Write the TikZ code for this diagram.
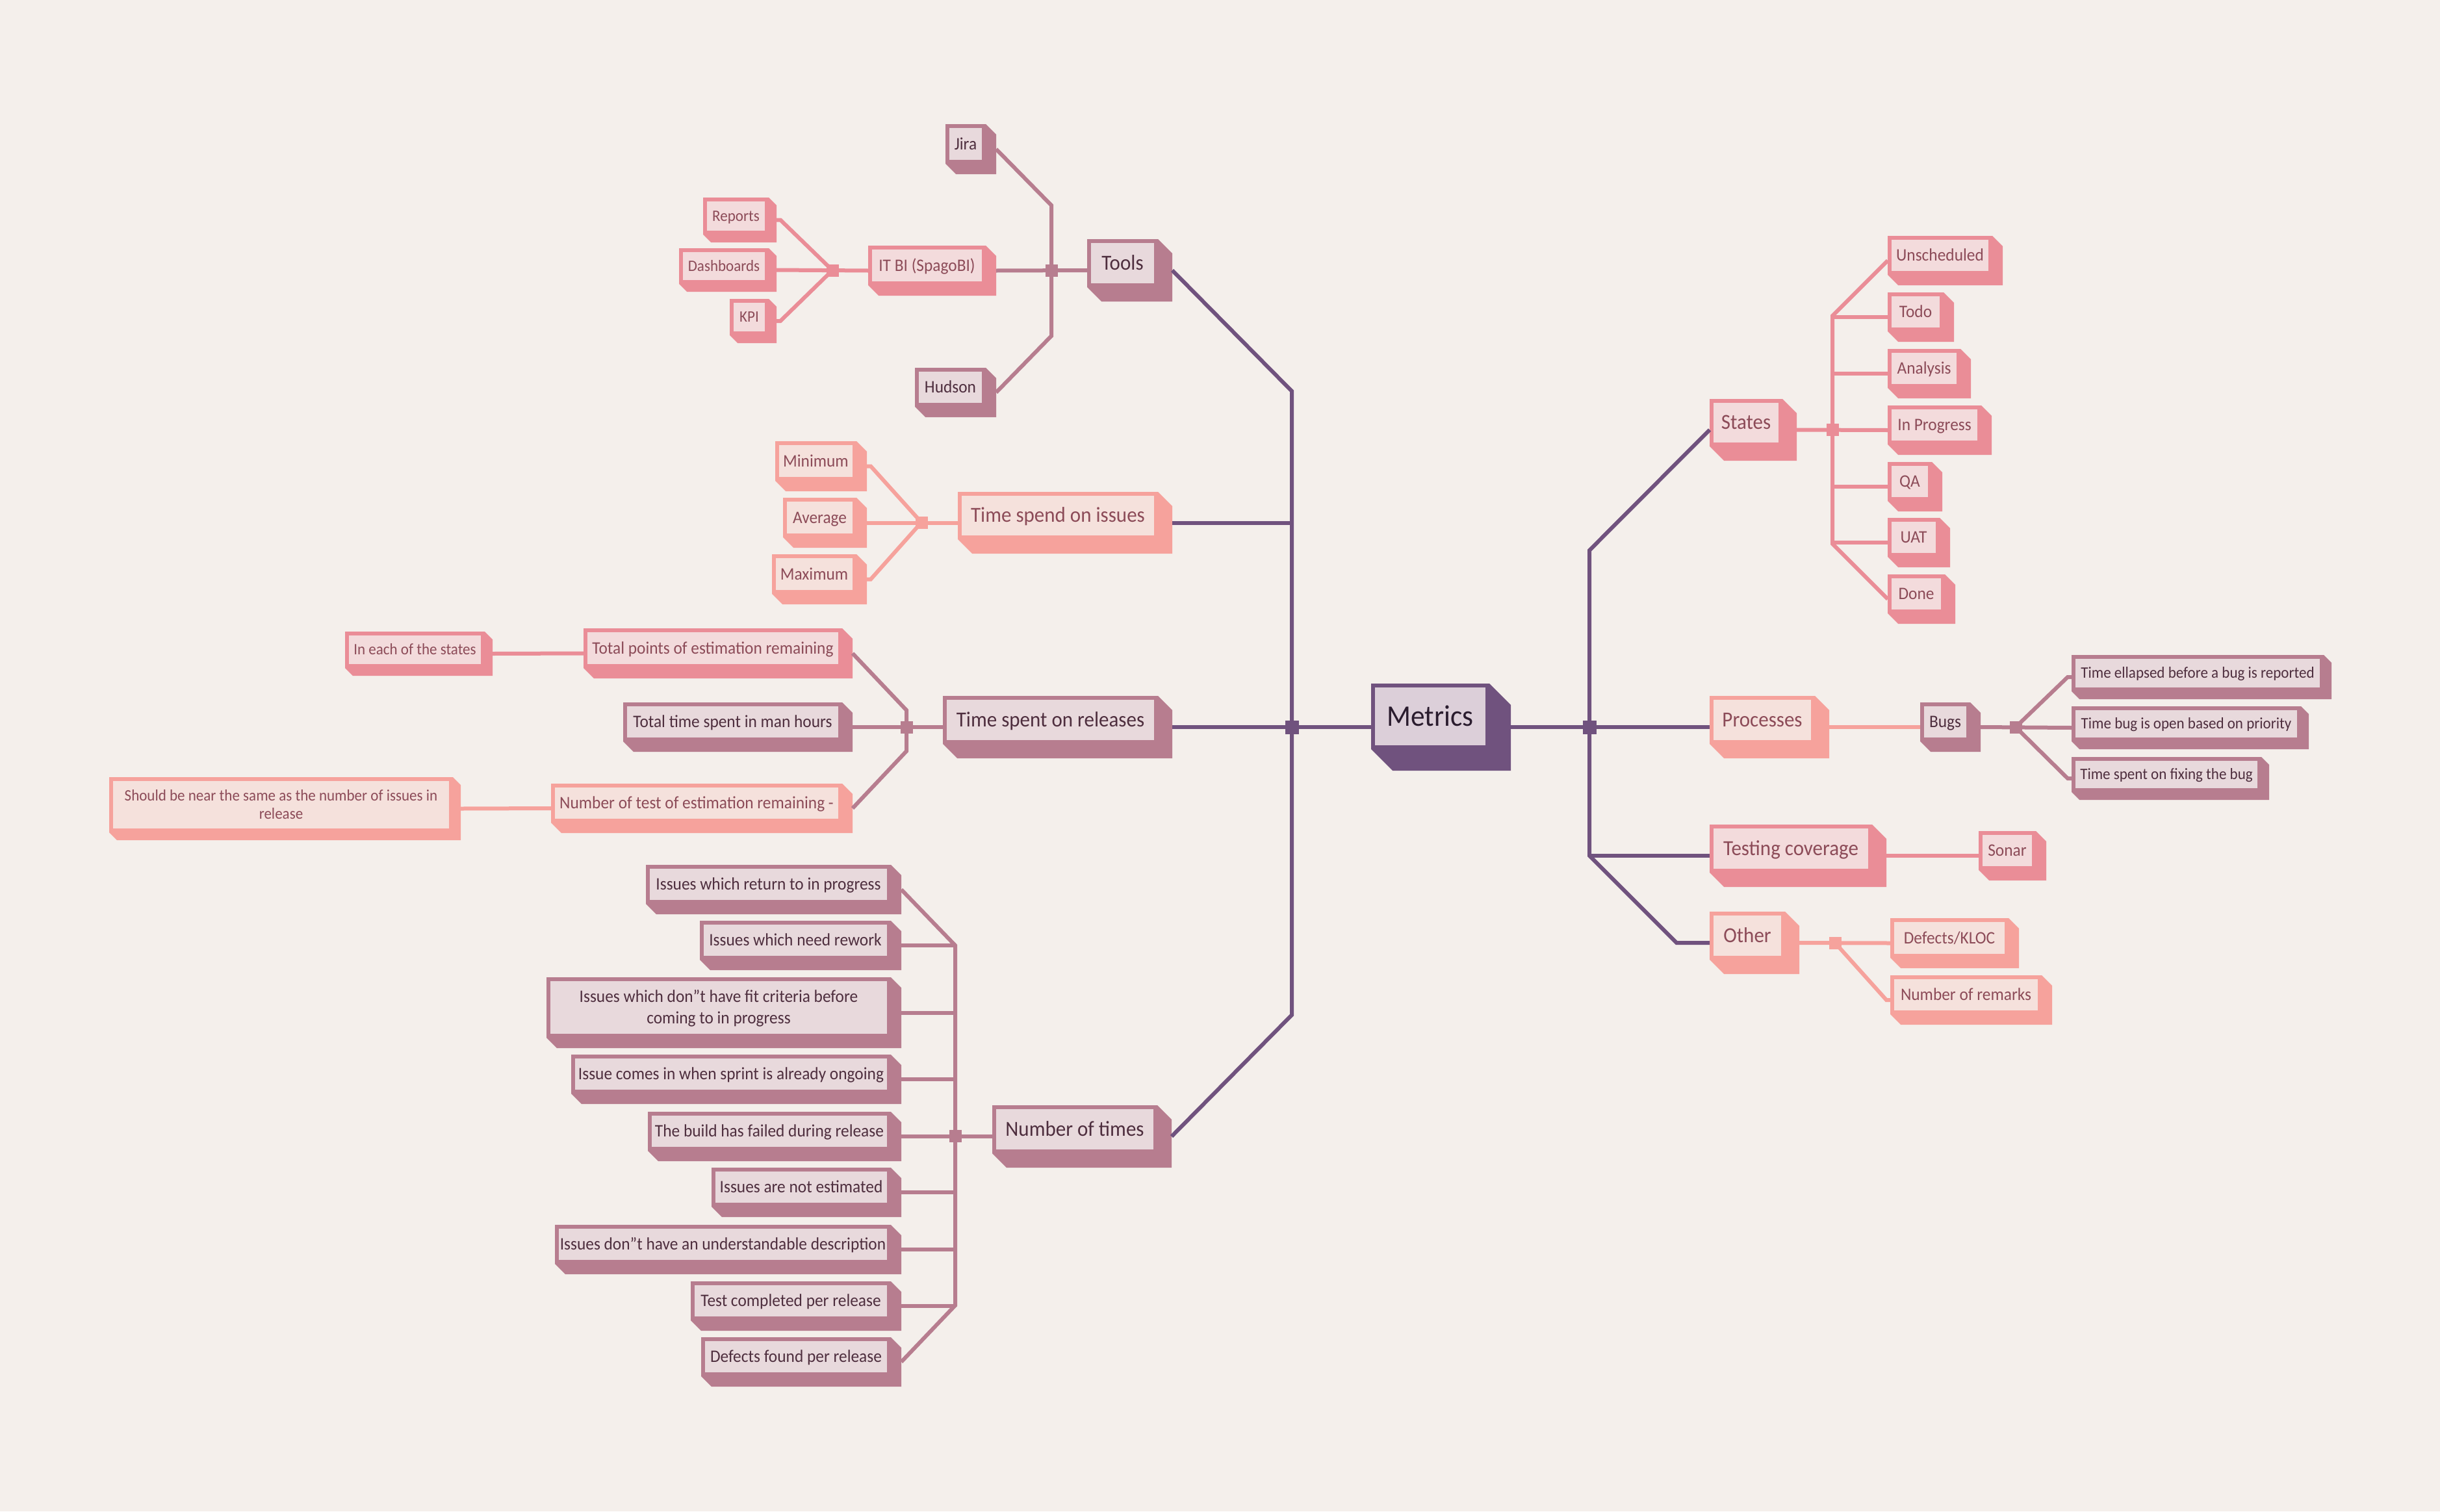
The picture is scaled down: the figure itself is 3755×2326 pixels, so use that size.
\documentclass[tikz,border=0pt]{standalone}
\usepackage{fontspec}
\setmainfont{Carlito}[FakeStretch=0.94]
\usetikzlibrary{calc}

\definecolor{bg}{HTML}{F4EFEB}
\definecolor{PD}{HTML}{70527E}
\definecolor{PL}{HTML}{DCCFD9}
\definecolor{PT}{HTML}{2A1C2E}
\definecolor{MD}{HTML}{B77D8F}
\definecolor{ML}{HTML}{E8D9DC}
\definecolor{MT}{HTML}{4E2E3E}
\definecolor{KD}{HTML}{EA8D97}
\definecolor{KL}{HTML}{F3DBDC}
\definecolor{KT}{HTML}{8C4B58}
\definecolor{SD}{HTML}{F6A29C}
\definecolor{SL}{HTML}{F5E1DC}
\definecolor{ST}{HTML}{8C4B58}

\tikzset{
  f0/.style={font=\fontsize{46}{55}\selectfont, text height=29pt, text depth=0pt, inner sep=0pt, align=center},
  f1/.style={font=\fontsize{33}{40}\selectfont, text height=20.8pt, text depth=0pt, inner sep=0pt, align=center},
  f2/.style={font=\fontsize{27}{33}\selectfont, text height=17pt, text depth=0pt, inner sep=0pt, align=center},
  f3/.style={font=\fontsize{24.5}{28}\selectfont, text height=15.4pt, text depth=0pt, inner sep=0pt, align=center},
  fullshape/.style={inner sep=0pt, outer sep=0pt, draw=none},
  conn/.style={line width=6pt, line join=miter},
  cP/.style={conn, draw=PD},
  cM/.style={conn, draw=MD},
  cK/.style={conn, draw=KD},
  cS/.style={conn, draw=SD},
  jn/.style={fill=#1, draw=none, inner sep=0pt, minimum size=19pt},
  jnbig/.style={fill=#1, draw=none, inner sep=0pt, minimum size=21pt},
}

% name, x0, y0, x1, y1, depth, colour set, font style, text
\newcommand\mmbox[9]{%
  \fill[#7D] (#2,#3) -- (#4,#3) -- ({#4+#6},{#3+#6}) -- ({#4+#6},{#5+#6}) -- ({#2+#6},{#5+#6}) -- (#2,#5) -- cycle;
  \fill[#7L] ({#2+6},{#3+6}) rectangle ({#4-6},{#5-6});
  \node[#8, text=#7T] (#1-t) at ({(#2+#4)/2},{(#3+#5)/2}) {#9};
  \node[fullshape, minimum width={#4+#6-#2}, minimum height={#5+#6-#3}] (#1) at ({(#2+#4+#6)/2},{(#3+#5+#6)/2}) {};
}

\begin{document}
\begin{tikzpicture}[x=1pt, y=-1pt]
\useasboundingbox (0,0) rectangle (3755,2326);
\fill[bg] (0,0) rectangle (3755,2326);

% ---------- boxes ----------
\mmbox{root}{2110}{1052}{2292}{1153}{33}{P}{f0}{Metrics}

\mmbox{tools}{1673}{368}{1782}{442}{22}{M}{f1}{Tools}
\mmbox{issues}{1474}{757}{1782}{830}{22}{S}{f1}{Time spend on issues}
\mmbox{releases}{1451}{1071}{1782}{1145}{22}{M}{f1}{Time spent on releases}
\mmbox{ntimes}{1527}{1701}{1781}{1775}{22}{M}{f1}{Number of times}
\mmbox{states}{2631}{614}{2743}{687}{22}{K}{f1}{States}
\mmbox{processes}{2631}{1071}{2793}{1145}{22}{S}{f1}{Processes}
\mmbox{testing}{2631}{1269}{2881}{1343}{22}{K}{f1}{Testing coverage}
\mmbox{other}{2631}{1403}{2747}{1477}{22}{S}{f1}{Other}

\mmbox{jira}{1455}{191}{1517}{252}{16}{M}{f2}{Jira}
\mmbox{itbi}{1336}{378}{1517}{439}{16}{K}{f2}{IT BI (SpagoBI)}
\mmbox{hudson}{1408}{566}{1517}{626}{16}{M}{f2}{Hudson}
\mmbox{minimum}{1193}{679}{1318}{740}{16}{S}{f2}{Minimum}
\mmbox{average}{1205}{766}{1318}{827}{16}{S}{f2}{Average}
\mmbox{maximum}{1188}{853}{1318}{914}{16}{S}{f2}{Maximum}
\mmbox{totpts}{898}{967}{1296}{1028}{16}{K}{f2}{Total points of estimation remaining}
\mmbox{tottime}{959}{1081}{1296}{1141}{16}{M}{f2}{Total time spent in man hours}
\mmbox{numtest}{848}{1206}{1296}{1266}{16}{S}{f2}{Number of test of estimation remaining -}

\mmbox{ret}{994}{1331}{1371}{1391}{16}{M}{f2}{Issues which return to in progress}
\mmbox{rework}{1077}{1417}{1371}{1477}{16}{M}{f2}{Issues which need rework}
\mmbox{fit}{841}{1504}{1371}{1597}{16}{M}{f2, text height=50pt}{Issues which don"t have fit criteria before\\coming to in progress}
\mmbox{sprint}{879}{1623}{1371}{1683}{16}{M}{f2}{Issue comes in when sprint is already ongoing}
\mmbox{build}{997}{1711}{1371}{1771}{16}{M}{f2}{The build has failed during release}
\mmbox{notest}{1095}{1797}{1371}{1857}{16}{M}{f2}{Issues are not estimated}
\mmbox{underst}{854}{1885}{1371}{1945}{16}{M}{f2}{Issues don"t have an understandable description}
\mmbox{testcomp}{1063}{1972}{1371}{2032}{16}{M}{f2}{Test completed per release}
\mmbox{defects}{1079}{2058}{1371}{2118}{16}{M}{f2}{Defects found per release}

\mmbox{unsched}{2905}{363}{3066}{423}{16}{K}{f2}{Unscheduled}
\mmbox{todo}{2905}{450}{2991}{510}{16}{K}{f2}{Todo}
\mmbox{analysis}{2905}{537}{3017}{597}{16}{K}{f2}{Analysis}
\mmbox{inprog}{2905}{624}{3049}{684}{16}{K}{f2}{In Progress}
\mmbox{qa}{2905}{711}{2973}{771}{16}{K}{f2}{QA}
\mmbox{uat}{2905}{797}{2985}{857}{16}{K}{f2}{UAT}
\mmbox{done}{2905}{884}{2993}{944}{16}{K}{f2}{Done}

\mmbox{bugs}{2955}{1081}{3032}{1141}{16}{M}{f2}{Bugs}
\mmbox{sonar}{3045}{1279}{3133}{1339}{16}{K}{f2}{Sonar}
\mmbox{defk}{2909}{1413}{3091}{1474}{16}{S}{f2}{Defects/KLOC}
\mmbox{nrem}{2909}{1501}{3142}{1561}{16}{S}{f2}{Number of remarks}

\mmbox{reports}{1082}{304}{1183}{361}{12}{K}{f3}{Reports}
\mmbox{dashb}{1045}{382}{1183}{437}{12}{K}{f3}{Dashboards}
\mmbox{kpi}{1123}{460}{1183}{516}{12}{K}{f3}{KPI}
\mmbox{ineach}{531}{972}{746}{1028}{12}{K}{f3}{In each of the states}
\mmbox{should}{168}{1196}{697}{1281}{12}{S}{f3, text height=43.4pt}{Should be near the same as the number of issues in\\release}
\mmbox{tel}{3188}{1008}{3576}{1064}{12}{M}{f3}{Time ellapsed before a bug is reported}
\mmbox{tbo}{3188}{1087}{3541}{1141}{12}{M}{f3}{Time bug is open based on priority}
\mmbox{tsf}{3188}{1165}{3480}{1219}{12}{M}{f3}{Time spent on fixing the bug}

% ---------- junction points ----------
\coordinate (jLc) at (1988,1119);
\coordinate (Ltop) at (1988,602);
\coordinate (Lbot) at (1988,1562);
\coordinate (jRc) at (2446,1119);
\coordinate (Rtop) at (2446,847);
\coordinate (Rbot) at (2446,1317);
\coordinate (Roth) at (2580,1451);
\coordinate (jTc) at (1618,416);
\coordinate (Ttop) at (1618,316);
\coordinate (Tbot) at (1618,517);
\coordinate (jIc) at (1281,416);
\coordinate (jSc) at (1418,804);
\coordinate (jRelc) at (1395,1119);
\coordinate (Reltop) at (1395,1093);
\coordinate (Relbot) at (1395,1156);
\coordinate (jNc) at (1470,1748);
\coordinate (Ntop) at (1470,1455);
\coordinate (Nbot) at (1470,2009);
\coordinate (jStc) at (2820,661);
\coordinate (Sttop) at (2820,486);
\coordinate (Stbot) at (2820,837);
\coordinate (jBc) at (3102,1119);
\coordinate (jOc) at (2824,1451);

% ---------- connectors ----------
% root, left
\draw[cP] (tools.east) -- (Ltop) -- (Lbot) -- (ntimes.east);
\draw[cP] (issues.east) -- (issues.east -| jLc);
\draw[cP] (releases.east) -- (root.west);
% root, right
\draw[cP] (states.west) -- (Rtop) -- (Rbot) -- (Roth) -- (other.west);
\draw[cP] (root.east) -- (processes.west);
\draw[cP] (Rbot) -- (testing.west);

% Tools
\draw[cM] (jira.east) -- (Ttop) -- (Tbot) -- (hudson.east);
\draw[cM] (itbi.east) -- (tools.west);
% IT BI
\draw[cK] (reports.east) -- ++(6,0) -- (jIc);
\draw[cK] (kpi.east) -- ++(6,0) -- (jIc);
\draw[cK] (dashb.east) -- (itbi.west);
% Time spend on issues
\draw[cS] (minimum.east) -- ++(6,0) -- (jSc);
\draw[cS] (maximum.east) -- ++(6,0) -- (jSc);
\draw[cS] (average.east) -- (issues.west);
% Time spent on releases
\draw[cM] (totpts.east) -- (Reltop) -- (Relbot) -- (numtest.east);
\draw[cM] (tottime.east) -- (releases.west);
\draw[cK] (ineach.east) -- (totpts.west);
\draw[cS] (should.east) -- (numtest.west);
% Number of times
\draw[cM] (ret.east) -- (Ntop) -- (Nbot) -- (defects.east);
\draw[cM] (build.east) -- (ntimes.west);
\draw[cM] (rework.east) -- (rework.east -| jNc);
\draw[cM] (fit.east) -- (fit.east -| jNc);
\draw[cM] (sprint.east) -- (sprint.east -| jNc);
\draw[cM] (notest.east) -- (notest.east -| jNc);
\draw[cM] (underst.east) -- (underst.east -| jNc);
\draw[cM] (testcomp.east) -- (testcomp.east -| jNc);
% States
\draw[cK] (unsched.west) -- (Sttop) -- (Stbot) -- (done.west);
\draw[cK] (states.east) -- (inprog.west);
\draw[cK] (todo.west) -- (todo.west -| jStc);
\draw[cK] (analysis.west) -- (analysis.west -| jStc);
\draw[cK] (qa.west) -- (qa.west -| jStc);
\draw[cK] (uat.west) -- (uat.west -| jStc);
% Processes / Bugs
\draw[cS] (processes.east) -- (bugs.west);
\draw[cM] (bugs.east) -- (tbo.west);
\draw[cM] (tel.west) -- ++(-6,0) -- (jBc);
\draw[cM] (tsf.west) -- ++(-6,0) -- (jBc);
% Testing coverage
\draw[cK] (testing.east) -- (sonar.west);
% Other
\draw[cS] (other.east) -- (defk.west);
\draw[cS] (nrem.west) -- ++(-6,0) -- (jOc);

% ---------- junction squares ----------
\node[jnbig=PD] (jL) at (jLc) {};
\node[jnbig=PD] (jR) at (jRc) {};
\node[jn=MD] (jT) at (jTc) {};
\node[jn=KD] (jI) at (jIc) {};
\node[jn=SD] (jS) at (jSc) {};
\node[jn=MD] (jRel) at (jRelc) {};
\node[jn=MD] (jN) at (jNc) {};
\node[jn=KD] (jSt) at (jStc) {};
\node[jn=MD] (jB) at (jBc) {};
\node[jn=SD] (jO) at (jOc) {};
\end{tikzpicture}
\end{document}
